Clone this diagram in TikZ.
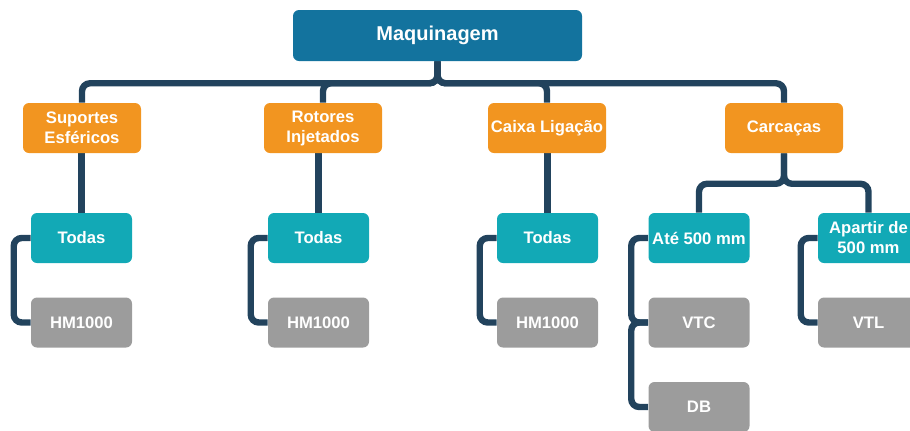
\documentclass[tikz,border=0pt]{standalone}
\usepackage{fontspec}
\setmainfont{Liberation Sans}
\usetikzlibrary{backgrounds}
\definecolor{topc}{HTML}{13739E}
\definecolor{orc}{HTML}{F29520}
\definecolor{tealc}{HTML}{12A9B6}
\definecolor{grayc}{HTML}{9C9C9C}
\definecolor{linec}{HTML}{22435D}
\tikzset{
  box/.style={rounded corners=4.5pt, inner sep=0pt, align=center, text=white, font=\bfseries\fontsize{12.5}{15}\selectfont, minimum height=37.5pt},
  topbox/.style={box, fill=topc, minimum width=216.75pt, minimum height=38.25pt, font=\bfseries\fontsize{15}{18}\selectfont},
  orbox/.style={box, fill=orc, minimum width=88.5pt},
  tbox/.style={box, fill=tealc, minimum width=75.75pt},
  gbox/.style={box, fill=grayc, minimum width=75.75pt},
  conn/.style={draw=linec, line width=4.8pt, rounded corners=6pt}
}
\begin{document}
\begin{tikzpicture}[x=0.75pt,y=-0.75pt]
\useasboundingbox (0,0) rectangle (910,430);
\node[topbox] (top) at (437.5,35.5) {Maquinagem};
\node[orbox] (sup) at (82,128) {Suportes\\Esféricos};
\node[orbox] (rot) at (323,128) {Rotores\\Injetados};
\node[orbox] (cai) at (547,128) {Caixa Ligação};
\node[orbox] (car) at (784,128) {Carcaças};
\node[tbox] (t1) at (81.5,238) {Todas};
\node[tbox] (t2) at (318.5,238) {Todas};
\node[tbox] (t3) at (547.5,238) {Todas};
\node[tbox] (ate) at (699,238) {Até 500 mm};
\node[tbox] (apa) at (868.5,238) {Apartir de\\500 mm};
\node[gbox] (h1) at (81.5,322.5) {HM1000};
\node[gbox] (h2) at (318.5,322.5) {HM1000};
\node[gbox] (h3) at (547.5,322.5) {HM1000};
\node[gbox] (vtc) at (699,322.5) {VTC};
\node[gbox] (db) at (699,407) {DB};
\node[gbox] (vtl) at (868.5,322.5) {VTL};
\begin{scope}[on background layer]
\foreach \n in {sup,rot,cai,car}
  \draw[conn] (top.south) -- ++(0,22) -| ([xshift=0pt]\n.north);
\foreach \t/\o in {t1/sup,t2/rot,t3/cai}
  \draw[conn] (\t.north) -- (\t.north |- \o.south);
\draw[conn] (car.south) -- ++(0,30.5) -| (ate.north);
\draw[conn] (car.south) -- ++(0,30.5) -| (apa.north);
\foreach \a/\b in {t1/h1,t2/h2,t3/h3,ate/vtc,apa/vtl,vtc/db}
  \draw[conn] (\a.west) -- ++(-17,0) |- (\b.west);
\end{scope}
\end{tikzpicture}
\end{document}
